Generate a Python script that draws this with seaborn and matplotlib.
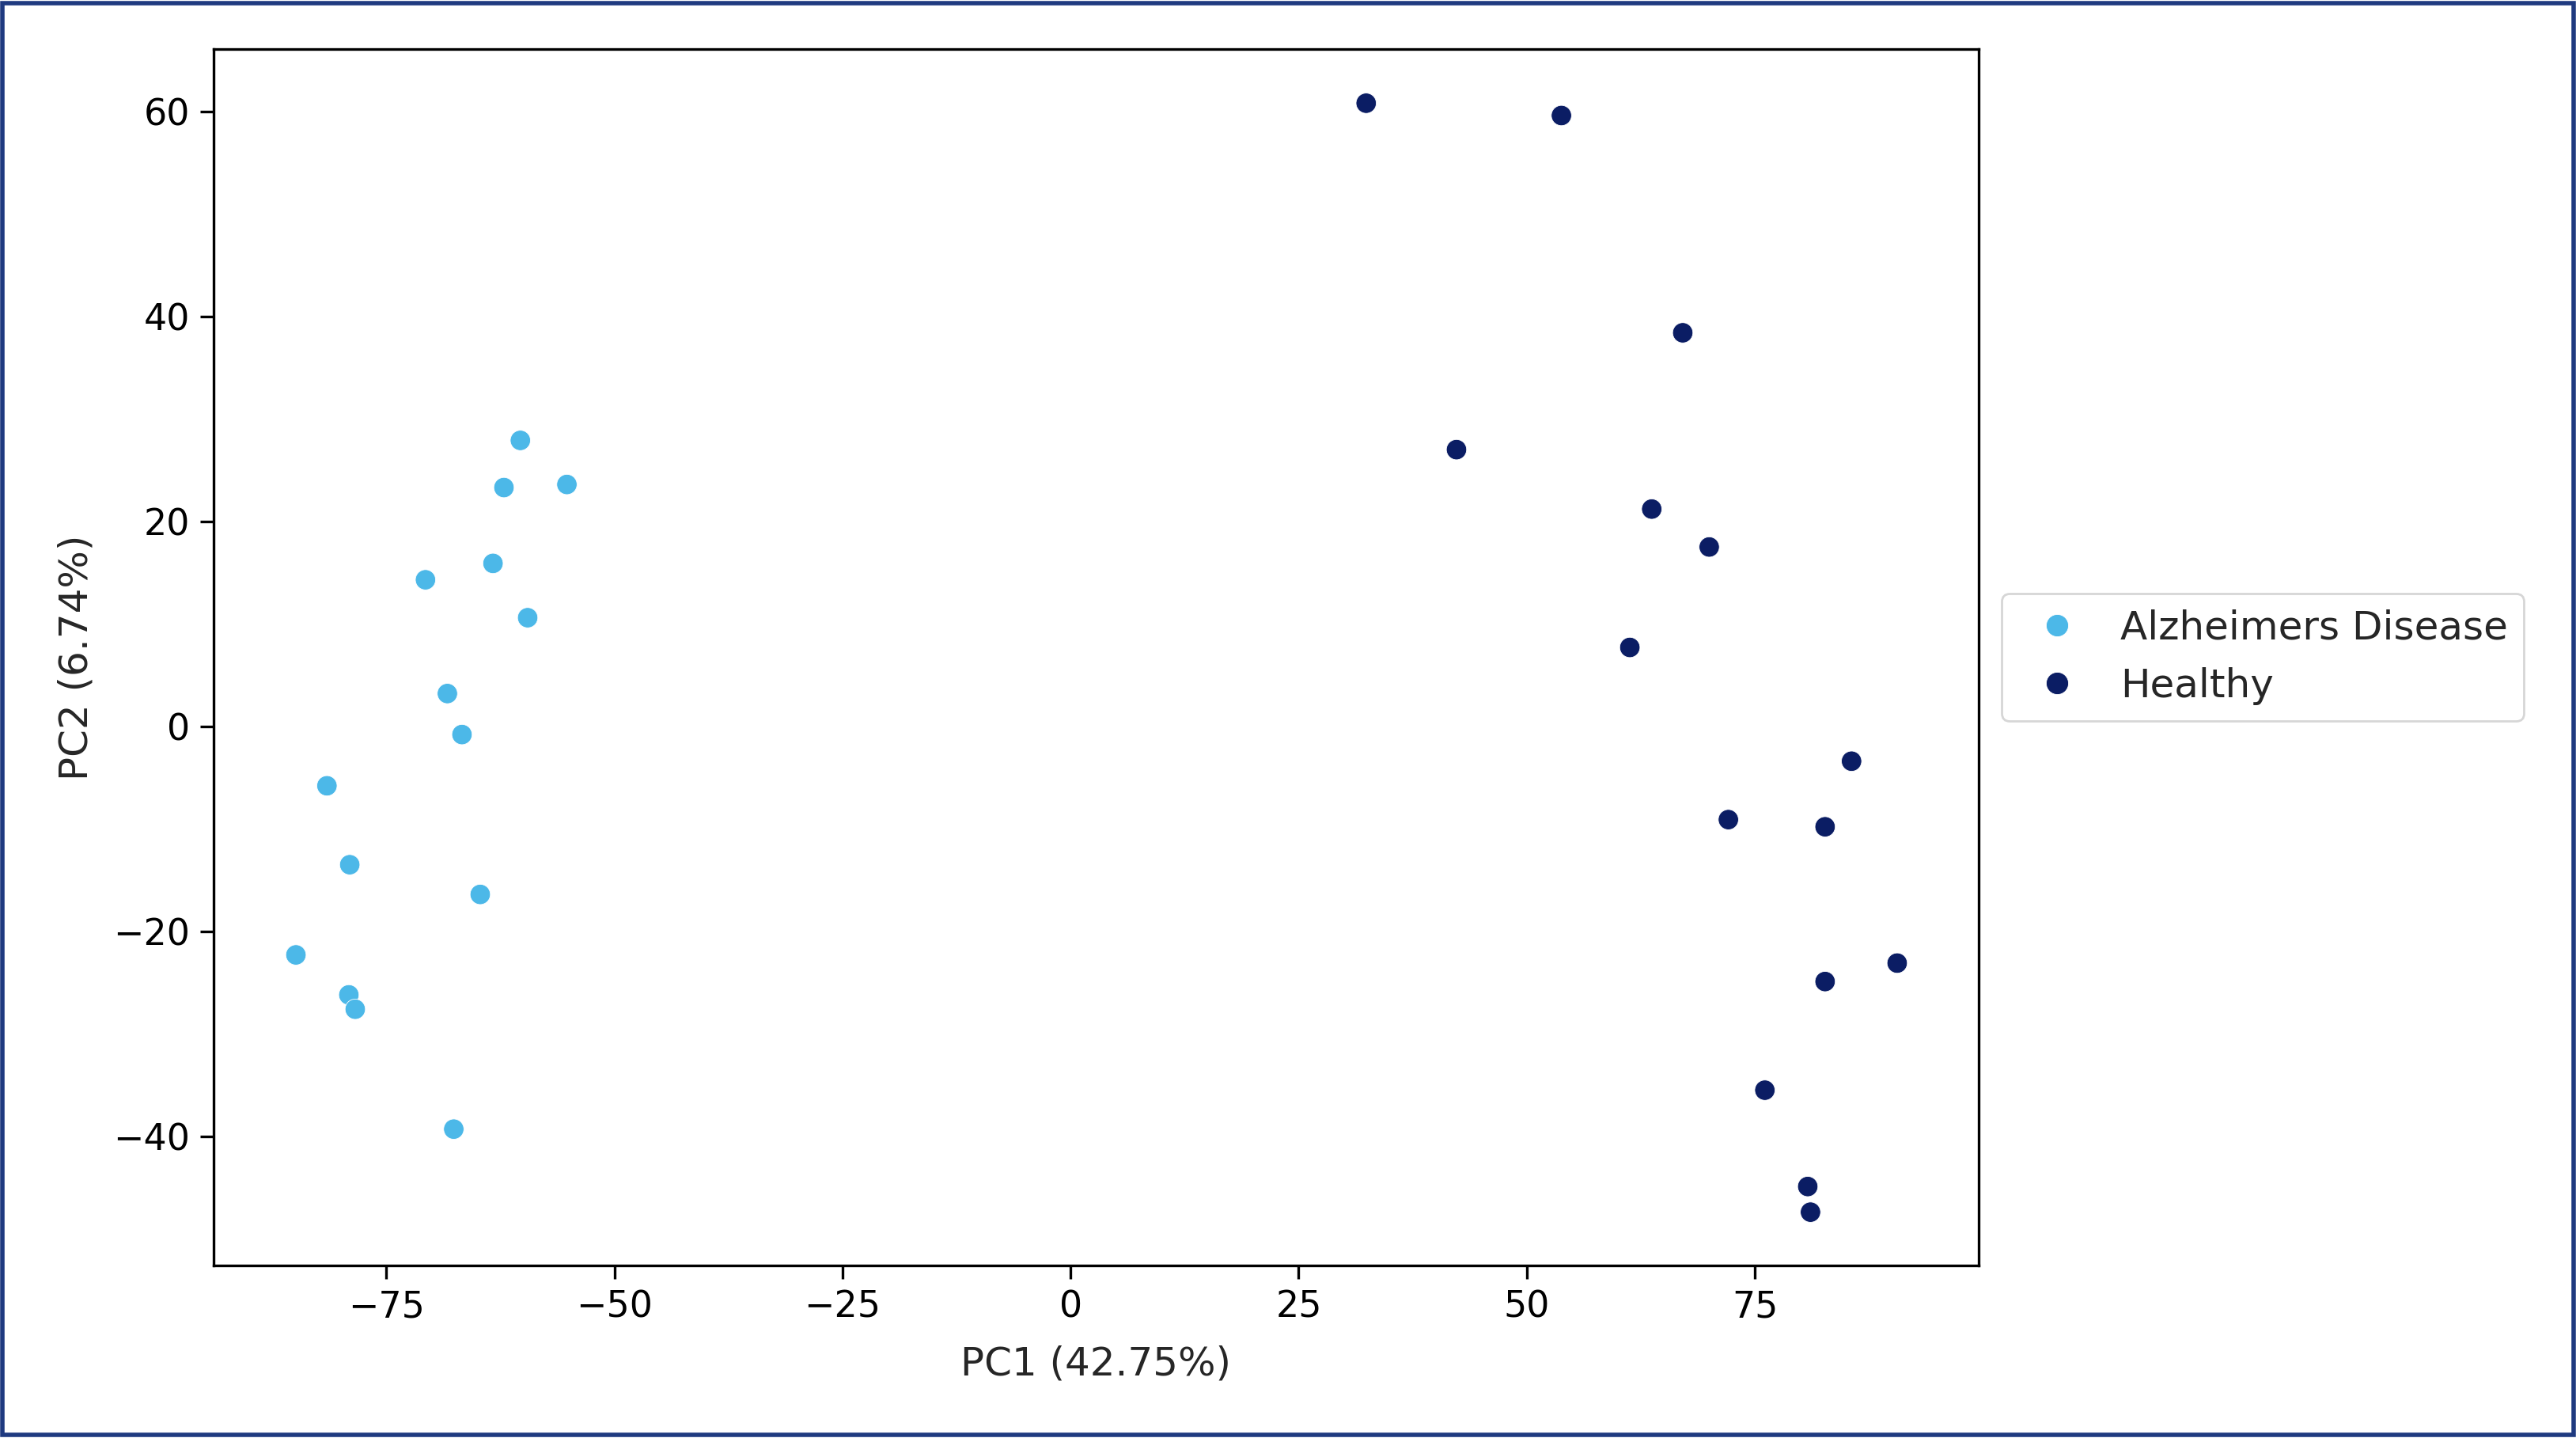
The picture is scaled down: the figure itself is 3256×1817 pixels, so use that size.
import matplotlib
matplotlib.use("Agg")
import matplotlib.pyplot as plt
import seaborn as sns
import pandas as pd
from matplotlib.patches import Rectangle

# PCA scores
ad_pc1 = [-60.3, -62.1, -55.2, -63.3, -70.7, -59.5, -68.3, -66.7,
          -81.5, -79.0, -64.7, -84.9, -79.1, -78.4, -67.6]
ad_pc2 = [27.9, 23.3, 23.6, 15.9, 14.3, 10.6, 3.2, -0.8,
          -5.8, -13.5, -16.4, -22.3, -26.2, -27.6, -39.3]

healthy_pc1 = [32.4, 53.8, 67.1, 42.3, 63.7, 70.0, 61.3, 85.6,
               72.1, 82.7, 90.6, 82.7, 76.1, 80.8, 81.1]
healthy_pc2 = [60.8, 59.6, 38.4, 27.0, 21.2, 17.5, 7.7, -3.4,
               -9.1, -9.8, -23.1, -24.9, -35.5, -44.9, -47.4]

groups = ["Alzheimers Disease", "Healthy"]
colors = ["#4cb8e8", "#0b1d64"]

df = pd.DataFrame({
    "PC1": ad_pc1 + healthy_pc1,
    "PC2": ad_pc2 + healthy_pc2,
    "group": [groups[0]] * len(ad_pc1) + [groups[1]] * len(healthy_pc1),
})

sns.set_style("ticks")
plt.rcParams["font.family"] = ["DejaVu Sans"]

fig = plt.figure(figsize=(16.28, 9.085), dpi=200)
ax = fig.add_axes([0.083, 0.12, 0.685, 0.846])

sns.scatterplot(data=df, x="PC1", y="PC2", hue="group", hue_order=groups,
                palette=colors, s=85, edgecolor="white", linewidth=0.3, ax=ax)

ax.set_xlim(-93.9, 99.5)
ax.set_ylim(-52.6, 66.1)
ax.set_xticks([-75, -50, -25, 0, 25, 50, 75])
ax.set_yticks([-40, -20, 0, 20, 40, 60])
ax.tick_params(labelsize=16.5, width=1.2, length=6, colors="black", pad=5)
for sp in ax.spines.values():
    sp.set_color("black")
    sp.set_linewidth(1.2)
ax.set_xlabel("PC1 (42.75%)", fontsize=18, labelpad=9)
ax.set_ylabel("PC2 (6.74%)", fontsize=18, labelpad=8)

leg = ax.legend(loc="center left", bbox_to_anchor=(1.002, 0.5), fontsize=18,
                frameon=True, markerscale=1.1, handletextpad=0.6)
leg.get_frame().set_edgecolor("#cccccc")

# dark blue frame round the whole picture
fig.patches.append(Rectangle((0.001, 0.002), 0.998, 0.996, transform=fig.transFigure,
                             fill=False, edgecolor="#1f3a80", linewidth=2))

fig.savefig("out.png", dpi=200)
